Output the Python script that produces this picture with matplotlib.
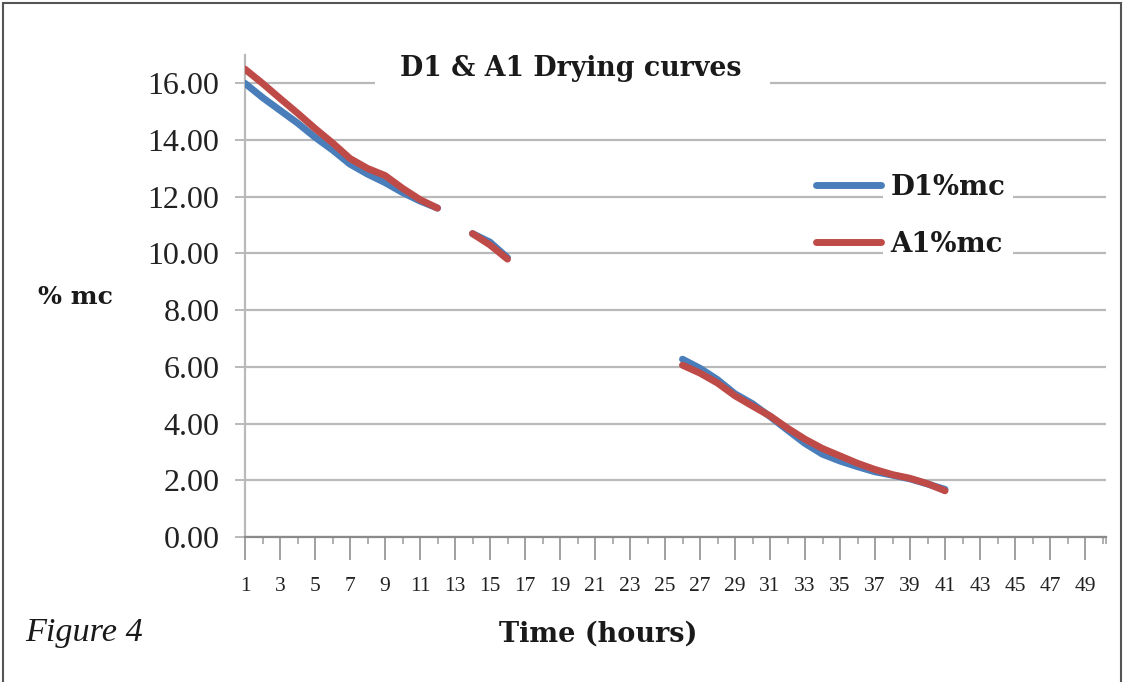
import numpy as np
import matplotlib
matplotlib.use("Agg")
import matplotlib.pyplot as plt
from matplotlib.patches import Rectangle
from matplotlib.lines import Line2D

# ---- data ----
hours = list(range(1, 51))
d1_seg1 = [16.0, 15.5, 15.05, 14.6, 14.1, 13.65, 13.15, 12.8, 12.5, 12.15, 11.85, 11.6]
a1_seg1 = [16.5, 16.0, 15.47, 14.95, 14.41, 13.9, 13.35, 13.0, 12.75, 12.3, 11.9, 11.6]
d1_seg2 = [10.7, 10.4, 9.85]
a1_seg2 = [10.7, 10.3, 9.8]
d1_seg3 = [6.27, 5.95, 5.55, 5.05, 4.7, 4.25, 3.77, 3.3, 2.92, 2.68, 2.48, 2.3, 2.18, 2.05, 1.87, 1.68]
a1_seg3 = [6.06, 5.78, 5.43, 4.98, 4.62, 4.27, 3.84, 3.45, 3.12, 2.86, 2.6, 2.38, 2.2, 2.07, 1.88, 1.63]
seg_starts = [1, 14, 26]
y_ticks = [0, 2, 4, 6, 8, 10, 12, 14, 16]
x_labels = [str(h) for h in hours if h % 2 == 1]


def build(segs):
    vals = np.full(len(hours), np.nan)
    for start, seg in zip(seg_starts, segs):
        vals[start - 1:start - 1 + len(seg)] = seg
    return vals


d1 = build([d1_seg1, d1_seg2, d1_seg3])
a1 = build([a1_seg1, a1_seg2, a1_seg3])

W, H = 1132, 682
fig = plt.figure(figsize=(W / 100, H / 100), dpi=100)
fig.patch.set_facecolor("white")

def fx(px):
    return px / W

def fy(py):
    return 1 - py / H

ax = fig.add_axes([fx(245), fy(537), fx(1106) - fx(245), fy(55) - fy(537)])
ax.set_axisbelow(True)

blue = "#4a7ebb"
red = "#be4b48"
ax.plot(hours, d1, color=blue, lw=5, solid_capstyle="round", solid_joinstyle="round", zorder=3)
ax.plot(hours, a1, color=red, lw=5, solid_capstyle="round", solid_joinstyle="round", zorder=4)

ax.set_xlim(1, 50.2)
ax.set_ylim(0, 17)

grid_c = "#b9b9b9"
ax.set_yticks(y_ticks)
ax.set_yticklabels([f"{v:.2f}" for v in y_ticks], fontfamily="Liberation Serif", fontsize=23, color="#222222")
ax.yaxis.grid(True, color=grid_c, lw=1.6)
ax.tick_params(axis="y", direction="out", length=7.5, width=1.4, color=grid_c, pad=11)

ax.set_xticks([h for h in hours if h % 2 == 1])
ax.set_xticks([h for h in hours if h % 2 == 0] + [50.2], minor=True)
ax.set_xticklabels(x_labels, fontfamily="Liberation Serif", fontsize=15.5, color="#222222")
ax.tick_params(axis="x", which="major", direction="out", length=16.5, width=1.3, color="#999999", pad=12)
ax.tick_params(axis="x", which="minor", direction="out", length=5, width=1.3, color="#aaaaaa")

for s in ["top", "right"]:
    ax.spines[s].set_visible(False)
ax.spines["left"].set_color(grid_c)
ax.spines["left"].set_linewidth(1.6)
ax.spines["bottom"].set_color("#8a8a8a")
ax.spines["bottom"].set_linewidth(1.6)

# title box
ax.add_patch(Rectangle((fx(375), fy(96)), fx(770) - fx(375), fy(50) - fy(96),
                       transform=fig.transFigure, facecolor="white", edgecolor="none",
                       zorder=1.5, clip_on=False))
ax.text(fx(571), fy(68), "D1 & A1 Drying curves", transform=fig.transFigure,
        ha="center", va="center", fontfamily="DejaVu Serif", fontweight="bold",
        fontsize=19.3, color="#1a1a1a", zorder=6)

# legend
ax.add_patch(Rectangle((fx(883), fy(263)), fx(1013) - fx(883), fy(165) - fy(263),
                       transform=fig.transFigure, facecolor="white", edgecolor="none",
                       zorder=1.5, clip_on=False))
handles = [Line2D([], [], color=blue, lw=5, solid_capstyle="round"),
           Line2D([], [], color=red, lw=5, solid_capstyle="round")]
leg = ax.legend(handles, ["D1%mc", "A1%mc"], loc="upper left",
                bbox_to_anchor=(fx(794), fy(152)), bbox_transform=fig.transFigure,
                frameon=False, handlelength=2.35, handletextpad=0.35, labelspacing=1.08,
                borderpad=0.3,
                prop={"family": "DejaVu Serif", "weight": "bold", "size": 19.8})
for t in leg.get_texts():
    t.set_color("#1a1a1a")

# axis labels
fig.text(fx(75), fy(297), "% mc", ha="center", va="center", fontfamily="DejaVu Serif",
         fontweight="bold", fontsize=18.2, color="#1a1a1a")
fig.text(fx(598), fy(634), "Time (hours)", ha="center", va="center", fontfamily="DejaVu Serif",
         fontweight="bold", fontsize=19.5, color="#1a1a1a")
fig.text(fx(25), fy(633), "Figure 4", ha="left", va="center", fontfamily="Liberation Serif",
         fontstyle="italic", fontsize=24.7, color="#1a1a1a")

# outer border
fig.patches.append(Rectangle((fx(3), fy(690)), fx(1121) - fx(3), fy(3) - fy(690),
                             transform=fig.transFigure, facecolor="none",
                             edgecolor="#555555", lw=1.5, figure=fig))

fig.savefig("out.png", dpi=100)
